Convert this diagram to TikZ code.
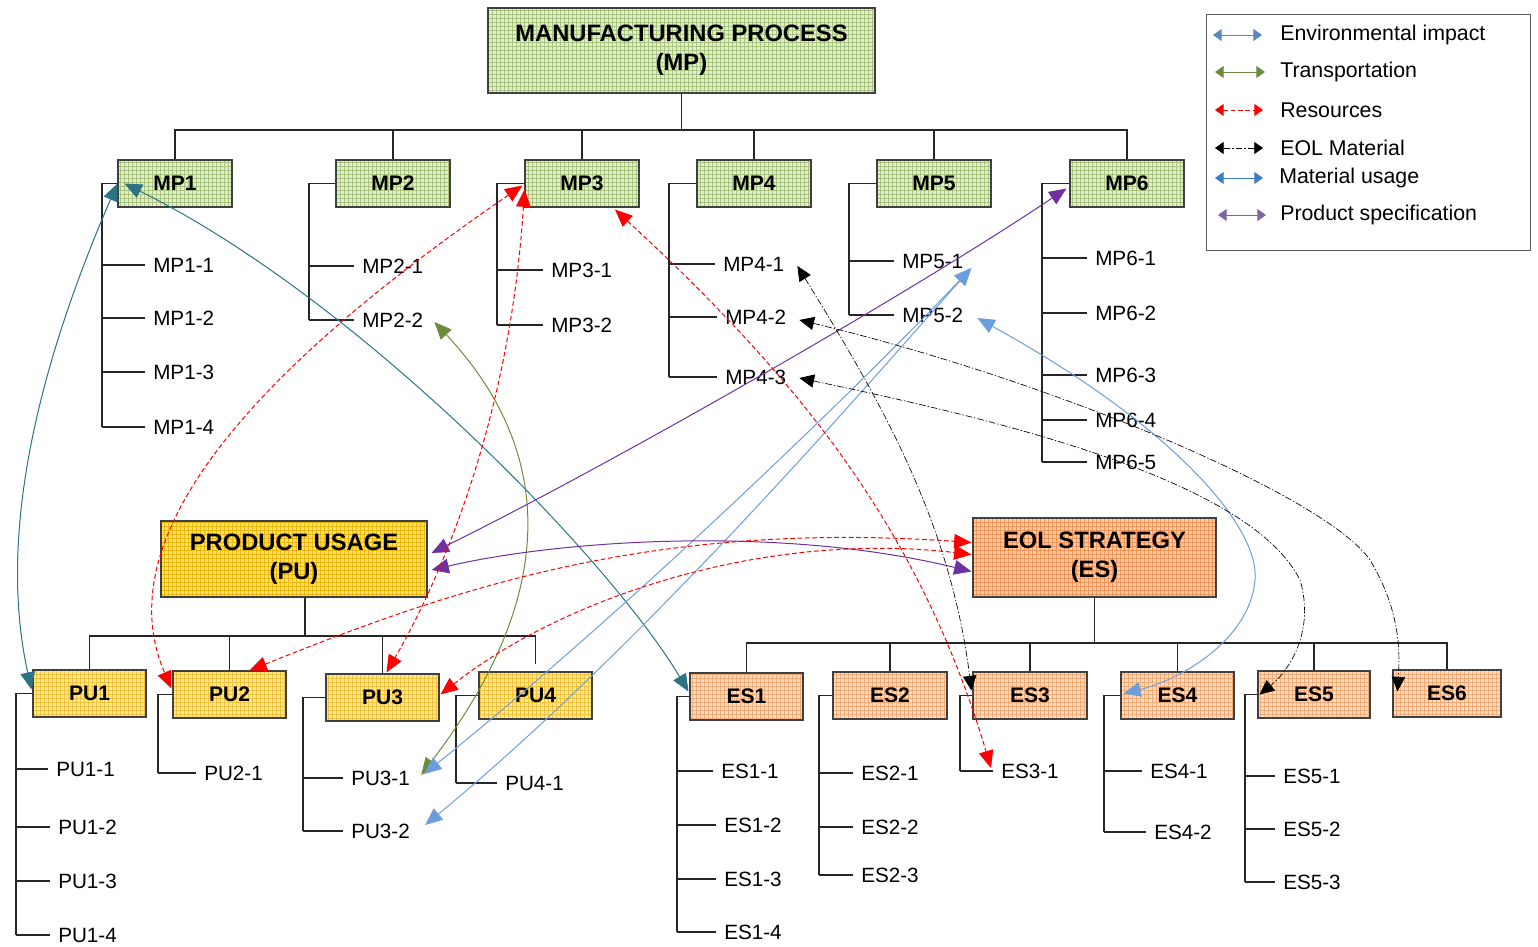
\documentclass[tikz,border=0pt]{standalone}
\usepackage{fontspec}
\setmainfont{Liberation Sans}
\usetikzlibrary{arrows.meta,patterns,calc}

\definecolor{mpbg}{HTML}{E3EDCF}
\definecolor{mpgrid}{HTML}{A9C47E}
\definecolor{pubg}{HTML}{FFE9A0}
\definecolor{pugrid}{HTML}{F2C33A}
\definecolor{puhbg}{HTML}{FFE07A}
\definecolor{puhgrid}{HTML}{EDB80A}
\definecolor{esbg}{HTML}{FDDEC6}
\definecolor{esgrid}{HTML}{F3AA74}
\definecolor{eshbg}{HTML}{FCCCA6}
\definecolor{eshgrid}{HTML}{EF955A}
\definecolor{envcol}{HTML}{2B7385}
\definecolor{envleg}{HTML}{5B87C0}
\definecolor{trcol}{HTML}{6E8B3D}
\definecolor{matcol}{HTML}{6D9EDC}
\definecolor{matleg}{HTML}{3D7BCC}
\definecolor{speccol}{HTML}{7030A0}
\definecolor{specleg}{HTML}{7F64A2}

\begin{document}
\begin{tikzpicture}[x=0.75pt,y=-0.75pt,
  font=\fontsize{15.5}{18}\selectfont,
  boxsize/.style 2 args={minimum width=#1*0.75pt, minimum height=#2*0.75pt},
  cell/.style={draw=black!75, line width=0.8pt, inner sep=0pt, align=center,
    font=\fontsize{15.8}{18}\selectfont\bfseries},
  head/.style={cell, font=\fontsize{17.8}{21.5}\selectfont\bfseries},
  mpfill/.style={preaction={fill=mpbg}, pattern=grid, pattern color=mpgrid},
  pufill/.style={preaction={fill=pubg}, pattern=grid, pattern color=pugrid},
  puhfill/.style={preaction={fill=puhbg}, pattern=grid, pattern color=puhgrid},
  esfill/.style={preaction={fill=esbg}, pattern=grid, pattern color=esgrid},
  eshfill/.style={preaction={fill=eshbg}, pattern=grid, pattern color=eshgrid},
  mpbox/.style={cell, mpfill, boxsize={114}{47}},
  pubox/.style={cell, pufill, boxsize={113}{47}},
  esbox/.style={cell, esfill, boxsize={113}{47}},
  item/.style={anchor=west, inner xsep=6pt, inner ysep=0pt},
  tree/.style={draw=black!85, line width=0.85pt},
  link/.style={line width=0.75pt,
    arrows={Triangle[length=13pt,width=11pt]-Triangle[length=13pt,width=11pt]}},
  env/.style={link, draw=envcol},
  transp/.style={link, draw=trcol},
  res/.style={link, draw=red, dash pattern=on 3.5pt off 2pt},
  eol/.style={line width=0.5pt, draw=black, dash pattern=on 5pt off 1.5pt on 1pt off 1.5pt,
    arrows={Triangle[length=11pt,width=10pt]-Triangle[length=11pt,width=10pt]}},
  mat/.style={link, draw=matcol},
  spec/.style={link, draw=speccol},
  legtip/.style={arrows={Triangle[length=6.5pt,width=9pt]-Triangle[length=6.5pt,width=9pt]}},
  legtext/.style={anchor=west, inner sep=0pt, font=\fontsize{16}{19}\selectfont}
]
\useasboundingbox (0,0) rectangle (1538,946);

% ---------------- Manufacturing process ----------------
\node[head, mpfill, boxsize={387}{85}] (mp) at (681.5,50.5) {MANUFACTURING PROCESS\\(MP)};
\node[mpbox] (mp1) at (175,183.5) {MP1};
\node[mpbox] (mp2) at (393,183.5) {MP2};
\node[mpbox] (mp3) at (582,183.5) {MP3};
\node[mpbox] (mp4) at (754,183.5) {MP4};
\node[mpbox] (mp5) at (934,183.5) {MP5};
\node[mpbox] (mp6) at (1127,183.5) {MP6};
\coordinate (mpbus) at (681.5,130);
\draw[tree] (mp.south) -- (mpbus);
\foreach \b in {mp1,mp2,mp3,mp4,mp5,mp6} \draw[tree] (mpbus) -| (\b.north);

\node[item] (mp11) at (145,265) {MP1-1};
\node[item] (mp12) at (145,318) {MP1-2};
\node[item] (mp13) at (145,372) {MP1-3};
\node[item] (mp14) at (145,427) {MP1-4};
\node[item] (mp21) at (354,266) {MP2-1};
\node[item] (mp22) at (354,320) {MP2-2};
\node[item] (mp31) at (543,270) {MP3-1};
\node[item] (mp32) at (543,325) {MP3-2};
\node[item] (mp41) at (715,264) {MP4-1};
\node[item] (mp42) at (717,317) {MP4-2};
\node[item] (mp43) at (717,377) {MP4-3};
\node[item] (mp51) at (894,261) {MP5-1};
\node[item] (mp52) at (894,315) {MP5-2};
\node[item] (mp61) at (1087,258) {MP6-1};
\node[item] (mp62) at (1087,313) {MP6-2};
\node[item] (mp63) at (1087,375) {MP6-3};
\node[item] (mp64) at (1087,420) {MP6-4};
\node[item] (mp65) at (1087,462) {MP6-5};

\coordinate (mp1b) at (102,183.5);
\coordinate (mp2b) at (309,183.5);
\coordinate (mp3b) at (497,183.5);
\coordinate (mp4b) at (669,183.5);
\coordinate (mp5b) at (849,183.5);
\coordinate (mp6b) at (1042,183.5);
\draw[tree] (mp1.west) -- (mp1b) -- (mp1b |- mp14.west);
\draw[tree] (mp2.west) -- (mp2b) -- (mp2b |- mp22.west);
\draw[tree] (mp3.west) -- (mp3b) -- (mp3b |- mp32.west);
\draw[tree] (mp4.west) -- (mp4b) -- (mp4b |- mp43.west);
\draw[tree] (mp5.west) -- (mp5b) -- (mp5b |- mp52.west);
\draw[tree] (mp6.west) -- (mp6b) -- (mp6b |- mp65.west);
\foreach \n in {mp11,mp12,mp13,mp14} \draw[tree] (mp1b |- \n.west) -- (\n.west);
\foreach \n in {mp21,mp22} \draw[tree] (mp2b |- \n.west) -- (\n.west);
\foreach \n in {mp31,mp32} \draw[tree] (mp3b |- \n.west) -- (\n.west);
\foreach \n in {mp41,mp42,mp43} \draw[tree] (mp4b |- \n.west) -- (\n.west);
\foreach \n in {mp51,mp52} \draw[tree] (mp5b |- \n.west) -- (\n.west);
\foreach \n in {mp61,mp62,mp63,mp64,mp65} \draw[tree] (mp6b |- \n.west) -- (\n.west);

% ---------------- Product usage ----------------
\node[head, puhfill, boxsize={266}{76}] (pu) at (294,559) {PRODUCT USAGE\\(PU)};
\node[pubox] (pu1) at (89.5,693.5) {PU1};
\node[pubox] (pu2) at (229.5,694.5) {PU2};
\node[pubox] (pu3) at (382.5,697.5) {PU3};
\node[pubox] (pu4) at (535.5,695.5) {PU4};
\coordinate (pubus) at (305,636);
\draw[tree] (pubus |- pu.south) -- (pubus);
\foreach \b in {pu1,pu2,pu3} \draw[tree] (pubus) -| (\b.north);
\draw[tree] (pubus) -| ($(pu4.north)+(0,-7)$);

\node[item] (pu11) at (48,769) {PU1-1};
\node[item] (pu12) at (50,827) {PU1-2};
\node[item] (pu13) at (50,881) {PU1-3};
\node[item] (pu14) at (50,935) {PU1-4};
\node[item] (pu21) at (196,773) {PU2-1};
\node[item] (pu31) at (343,778) {PU3-1};
\node[item] (pu32) at (343,831) {PU3-2};
\node[item] (pu41) at (497,783) {PU4-1};

\coordinate (pu1b) at (16,693.5);
\coordinate (pu2b) at (158,694.5);
\coordinate (pu3b) at (303,697.5);
\coordinate (pu4b) at (456,695.5);
\draw[tree] (pu1.west) -- (pu1b) -- (pu1b |- pu14.west);
\draw[tree] (pu2.west) -- (pu2b) -- (pu2b |- pu21.west);
\draw[tree] (pu3.west) -- (pu3b) -- (pu3b |- pu32.west);
\draw[tree] (pu4.west) -- (pu4b) -- (pu4b |- pu41.west);
\foreach \n in {pu11,pu12,pu13,pu14} \draw[tree] (pu1b |- \n.west) -- (\n.west);
\draw[tree] (pu2b |- pu21.west) -- (pu21.west);
\foreach \n in {pu31,pu32} \draw[tree] (pu3b |- \n.west) -- (\n.west);
\draw[tree] (pu4b |- pu41.west) -- (pu41.west);

% ---------------- EOL strategy ----------------
\node[head, eshfill, boxsize={243}{79}] (es) at (1094.5,557.5) {EOL STRATEGY\\(ES)};
\node[esbox] (es1) at (746.5,696.5) {ES1};
\node[esbox, boxsize={114}{47}] (es2) at (890,695.5) {ES2};
\node[esbox, boxsize={114}{47}] (es3) at (1030,695.5) {ES3};
\node[esbox] (es4) at (1177.5,695.5) {ES4};
\node[esbox, boxsize={112}{47}] (es5) at (1314,694.5) {ES5};
\node[esbox, boxsize={108}{47}] (es6) at (1447,693.5) {ES6};
\coordinate (esbus) at (1094.5,643);
\draw[tree] (es.south) -- (esbus);
\foreach \b in {es1,es2,es3,es4,es5,es6} \draw[tree] (esbus) -| (\b.north);

\node[item] (es11) at (713,771) {ES1-1};
\node[item] (es12) at (716,825) {ES1-2};
\node[item] (es13) at (716,879) {ES1-3};
\node[item] (es14) at (716,932) {ES1-4};
\node[item] (es21) at (853,773) {ES2-1};
\node[item] (es22) at (853,827) {ES2-2};
\node[item] (es23) at (853,875) {ES2-3};
\node[item] (es31) at (993,771) {ES3-1};
\node[item] (es41) at (1142,771) {ES4-1};
\node[item] (es42) at (1146,832) {ES4-2};
\node[item] (es51) at (1275,776) {ES5-1};
\node[item] (es52) at (1275,829) {ES5-2};
\node[item] (es53) at (1275,882) {ES5-3};

\coordinate (es1b) at (677,696.5);
\coordinate (es2b) at (819,695.5);
\coordinate (es3b) at (960,695.5);
\coordinate (es4b) at (1104,695.5);
\coordinate (es5b) at (1245,694.5);
\draw[tree] (es1.west) -- (es1b) -- (es1b |- es14.west);
\draw[tree] (es2.west) -- (es2b) -- (es2b |- es23.west);
\draw[tree] (es3.west) -- (es3b) -- (es3b |- es31.west);
\draw[tree] (es4.west) -- (es4b) -- (es4b |- es42.west);
\draw[tree] (es5.west) -- (es5b) -- (es5b |- es53.west);
\foreach \n in {es11,es12,es13,es14} \draw[tree] (es1b |- \n.west) -- (\n.west);
\foreach \n in {es21,es22,es23} \draw[tree] (es2b |- \n.west) -- (\n.west);
\draw[tree] (es3b |- es31.west) -- (es31.west);
\foreach \n in {es41,es42} \draw[tree] (es4b |- \n.west) -- (\n.west);
\foreach \n in {es51,es52,es53} \draw[tree] (es5b |- \n.west) -- (\n.west);

% ---------------- Relations ----------------
% environmental impact
\draw[env] ($(pu1.west)+(-1,-4)$) .. controls (5,570) and (15,420) .. (mp1.west);
\draw[env] ($(mp1.west)+(7,0)$) .. controls (360,300) and (610,560) .. ($(es1.west)+(-1,-5)$);
% transportation
\draw[transp] ($(mp22.east)+(3,2)$) .. controls (545,440) and (570,580) .. ($(pu31.east)+(3,-3)$);
% material usage
\draw[mat] ($(mp51.east)+(0,7)$) .. controls (870,375) and (640,600) .. ($(pu31.east)+(6,-4)$);
\draw[mat] ($(mp51.east)+(0,7)$) .. controls (880,370) and (650,640) .. ($(pu32.east)+(7,-6)$);
\draw[mat] ($(mp52.east)+(6,3)$) .. controls (1180,430) and (1260,530) .. (1255,580)
  .. controls (1250,640) and (1180,680) .. ($(es4.west)+(3,-2)$);
% product specification
\draw[spec] ($(mp6.west)+(-3,5)$) .. controls (900,300) and (600,470) .. ($(pu.east)+(4,-6)$);
\draw[spec] ($(pu.east)+(4,11)$) .. controls (560,540) and (780,525) .. ($(es.west)+(-1,14)$);
% resources
\draw[res] ($(mp3.west)+(-2,2)$) .. controls (180,420) and (120,570) .. ($(pu2.west)+(-1,-6)$);
\draw[res] ($(mp3.west)+(0,6)$) .. controls (510,420) and (440,580) .. ($(pu3.north)+(4,-1)$);
\draw[res] ($(mp3.south)+(33,2)$) .. controls (800,380) and (920,530) .. ($(es31.west)+(-2,-3)$);
\draw[res] ($(pu2.north)+(20,0)$) .. controls (450,590) and (650,520) .. ($(es.west)+(-1,-15)$);
\draw[res] ($(pu3.east)+(1,-3)$) .. controls (560,600) and (760,530) .. ($(es.west)+(-1,-3)$);
% end-of-life material
\draw[eol] ($(mp41.east)+(5,2)$) .. controls (880,400) and (950,520) .. ($(es3.west)+(-1,-5)$);
\draw[eol] ($(mp42.east)+(5,3)$) .. controls (1050,380) and (1325,495) .. (1370,560)
  .. controls (1400,610) and (1400,650) .. ($(es6.west)+(5,-2)$);
\draw[eol] ($(mp43.east)+(5,1)$) .. controls (1000,420) and (1250,480) .. (1300,580)
  .. controls (1315,630) and (1290,670) .. ($(es5.west)+(2,0)$);

% ---------------- Legend ----------------
\node[draw=black!65, line width=0.8pt, anchor=north west, boxsize={324}{236}] (legend) at (1206,14) {};
\coordinate (la1) at (1213,35);  \coordinate (lb1) at (1262,35);
\coordinate (la2) at (1215,72);  \coordinate (lb2) at (1265,72);
\coordinate (la3) at (1215,110); \coordinate (lb3) at (1263,110);
\coordinate (la4) at (1215,148); \coordinate (lb4) at (1263,148);
\coordinate (la5) at (1215,178); \coordinate (lb5) at (1263,178);
\coordinate (la6) at (1218,215); \coordinate (lb6) at (1266,215);
\draw[env, legtip, draw=envleg] (la1) -- (lb1);
\draw[transp, legtip] (la2) -- (lb2);
\draw[res, legtip] (la3) -- (lb3);
\draw[eol, legtip] (la4) -- (lb4);
\draw[mat, legtip, draw=matleg] (la5) -- (lb5);
\draw[spec, legtip, draw=specleg] (la6) -- (lb6);
\node[legtext] (lt1) at (1280,35) {Environmental impact};
\node[legtext] (lt2) at (1280,72) {Transportation};
\node[legtext] (lt3) at (1280,110) {Resources};
\node[legtext] (lt4) at (1280,148) {EOL Material};
\node[legtext] (lt5) at (1279,178) {Material usage};
\node[legtext] (lt6) at (1280,215) {Product specification};
\end{tikzpicture}
\end{document}
